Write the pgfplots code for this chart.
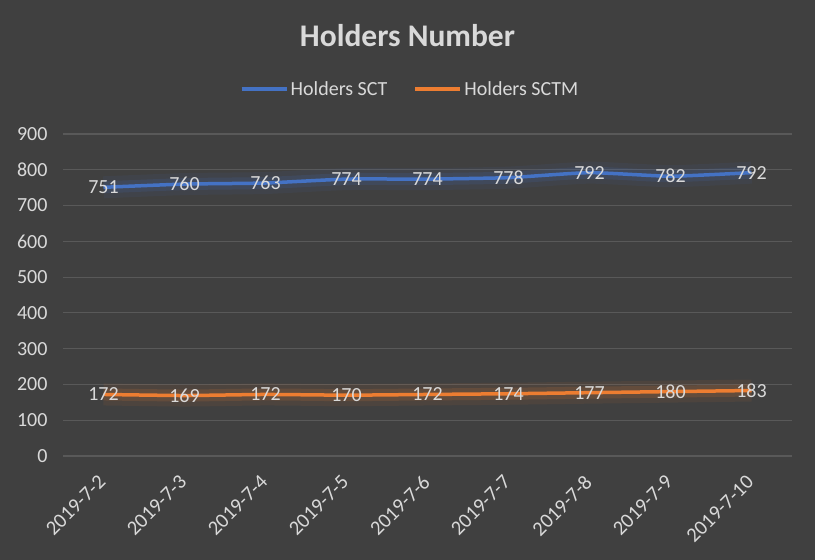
\documentclass[border=0pt]{standalone}
\usepackage{pgfplots}
\pgfplotsset{compat=1.18}
\usepackage{fontspec}
\setmainfont{Carlito}
\definecolor{bg}{HTML}{404040}
\definecolor{txt}{HTML}{D9D9D9}
\definecolor{gridc}{HTML}{595959}
\definecolor{sct}{HTML}{4472C4}
\definecolor{sctm}{HTML}{ED7D31}
\begin{document}
\begin{tikzpicture}
\fill[bg] (0,0) rectangle (815bp,560bp);
\begin{axis}[
  at={(63bp,104bp)}, anchor=south west,
  width=729bp, height=322bp, scale only axis,
  xmin=-0.5, xmax=8.5, ymin=0, ymax=900,
  ytick={0,100,...,900},
  xtick={0,...,8},
  xticklabels={2019-7-2,2019-7-3,2019-7-4,2019-7-5,2019-7-6,2019-7-7,2019-7-8,2019-7-9,2019-7-10},
  axis line style={draw=none},
  major tick length=0pt,
  ymajorgrids,
  grid style={color=gridc, line width=1.2bp},
  /pgf/number format/assume math mode=true,
  tick label style={text=txt, font=\fontsize{20bp}{23bp}\selectfont},
  yticklabel style={xshift=-12bp},
  xticklabel style={rotate=45, anchor=north east, xshift=-13.7bp, yshift=-5bp, font=\fontsize{20.5bp}{23bp}\selectfont},
  legend style={at={(0.476,1.14)}, anchor=center, draw=none, fill=none,
    text=txt, font=\fontsize{20bp}{23bp}\selectfont,
    legend columns=2,
    /tikz/every even column/.append style={column sep=24bp},
    nodes={inner sep=2bp}},
  legend image code/.code={\draw[#1, line width=4bp] (0bp,0bp) -- (45bp,0bp);},
  clip=false,
]
% glow
\addplot[sct, line width=22bp, opacity=0.08, smooth, tension=0.3, forget plot] coordinates {(0,751)(1,760)(2,763)(3,774)(4,774)(5,778)(6,792)(7,782)(8,792)};
\addplot[sct, line width=12bp, opacity=0.14, smooth, tension=0.3, forget plot] coordinates {(0,751)(1,760)(2,763)(3,774)(4,774)(5,778)(6,792)(7,782)(8,792)};
\addplot[sctm, line width=22bp, opacity=0.08, smooth, tension=0.3, forget plot] coordinates {(0,172)(1,169)(2,172)(3,170)(4,172)(5,174)(6,177)(7,180)(8,183)};
\addplot[sctm, line width=12bp, opacity=0.14, smooth, tension=0.3, forget plot] coordinates {(0,172)(1,169)(2,172)(3,170)(4,172)(5,174)(6,177)(7,180)(8,183)};
% main lines
\addplot[sct, line width=3.5bp, smooth, tension=0.3,
  nodes near coords, every node near coord/.append style={anchor=center, text=txt, font=\fontsize{20bp}{23bp}\selectfont}]
  coordinates {(0,751)(1,760)(2,763)(3,774)(4,774)(5,778)(6,792)(7,782)(8,792)};
\addlegendentry{Holders SCT}
\addplot[sctm, line width=3.5bp, smooth, tension=0.3,
  nodes near coords, every node near coord/.append style={anchor=center, text=txt, font=\fontsize{20bp}{23bp}\selectfont}]
  coordinates {(0,172)(1,169)(2,172)(3,170)(4,172)(5,174)(6,177)(7,180)(8,183)};
\addlegendentry{Holders SCTM}
\end{axis}
\node[text=txt, font=\fontsize{31.5bp}{36bp}\selectfont\bfseries] at (407.5bp,524bp) {Holders Number};
\end{tikzpicture}
\end{document}
